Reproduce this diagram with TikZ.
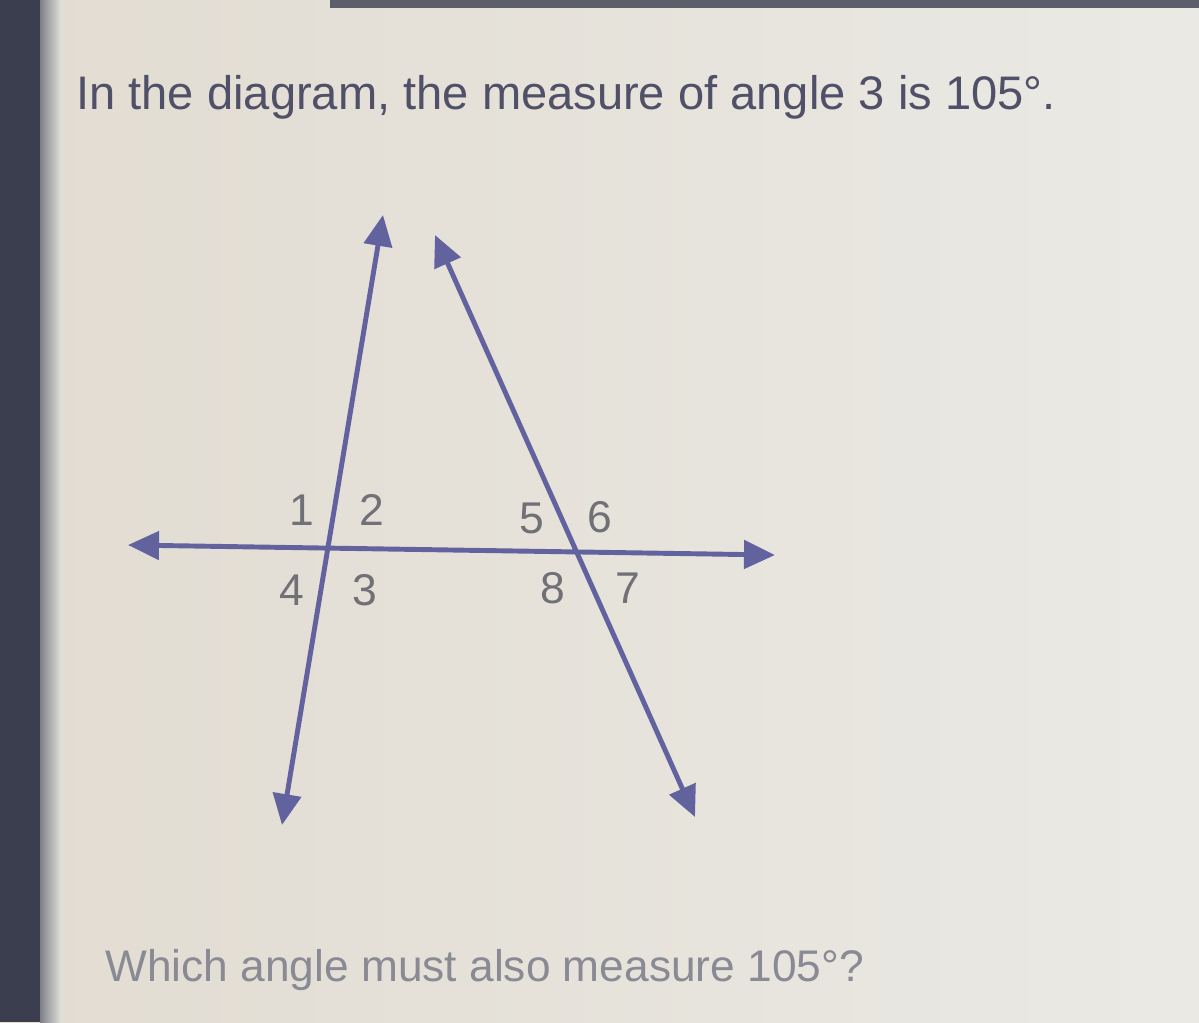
\documentclass[tikz,border=0pt]{standalone}
\usepackage{fontspec}
\setmainfont{Liberation Sans}
\usetikzlibrary{arrows.meta}
\definecolor{linecol}{RGB}{98,98,158}
\definecolor{papercol}{RGB}{229,228,222}
\definecolor{edgecol}{RGB}{58,62,78}
\definecolor{titlecol}{RGB}{80,80,104}
\definecolor{askcol}{RGB}{138,138,148}
\definecolor{numcol}{RGB}{112,112,118}
\tikzset{
  line/.style={linecol, line width=2.8pt, {Triangle[length=0.62cm,width=0.56cm]}-{Triangle[length=0.62cm,width=0.56cm]}},
  num/.style={numcol, font=\fontsize{25.3}{28}\selectfont, inner sep=0pt},
  words/.style={anchor=base west, inner sep=0pt}
}
\begin{document}
\begin{tikzpicture}[x=0.02cm, y=-0.02cm]
\useasboundingbox (0,0) rectangle (1199,1022);
\shade[left color=papercol!92!brown, right color=papercol!80!white] (0,0) rectangle (1199,1022);
\fill[edgecol] (0,0) rectangle (40,1022);
\shade[left color=edgecol!60!papercol, right color=papercol] (40,0) rectangle (62,1022);
\fill[edgecol!80!papercol] (330,0) rectangle (1199,8);
\node[words, titlecol] (title) at (76,109) {\fontsize{26.8}{32}\selectfont In the diagram, the measure of angle 3 is 105°.};
\node[words, askcol] (ask) at (105,981) {\fontsize{25.2}{30}\selectfont Which angle must also measure 105°?};
\coordinate (hL) at (128,545);
\coordinate (hR) at (775,555);
\coordinate (aT) at (383,215);
\coordinate (aB) at (282,825);
\coordinate (bT) at (435,235);
\coordinate (bB) at (695,817);
\draw[line] (hL)--(hR);
\draw[line] (aT)--(aB);
\draw[line] (bT)--(bB);
\node[num] (n1) at (302,510) {1};
\node[num] (n2) at (372,510) {2};
\node[num] (n3) at (365,590) {3};
\node[num] (n4) at (292,590) {4};
\node[num] (n5) at (532,518) {5};
\node[num] (n6) at (600,517) {6};
\node[num] (n7) at (628,588) {7};
\node[num] (n8) at (553,588) {8};
\end{tikzpicture}
\end{document}
